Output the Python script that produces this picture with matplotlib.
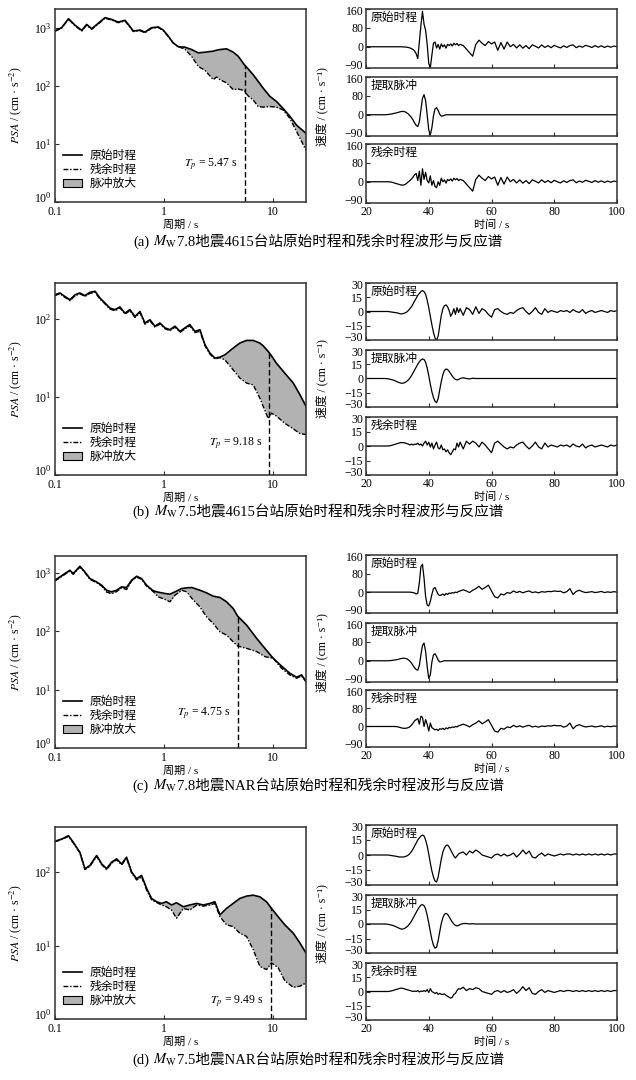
import numpy as np
import matplotlib
matplotlib.use('Agg')
import matplotlib.pyplot as plt
from matplotlib.lines import Line2D
from matplotlib.patches import Patch
from matplotlib.ticker import NullLocator, LogFormatterSciNotation
from matplotlib.transforms import ScaledTranslation

# ---- response spectra (period / s, PSA / cm s^-2) ----
period_a = [0.100, 0.115, 0.133, 0.153, 0.176, 0.195, 0.217, 0.249, 0.287, 0.330, 0.380, 0.438, 0.470, 0.522,
            0.601, 0.667, 0.768, 0.884, 0.983, 1.09, 1.21, 1.35, 1.55, 1.79, 2.06, 2.37, 2.82, 3.03, 3.25, 3.74,
            4.30, 4.78, 5.43, 5.90, 6.56, 7.29, 8.10, 9.32, 10.7, 12.3, 14.2, 16.4, 20.0]
psa_orig_a = [880, 1000, 1430, 1100, 900, 1140, 960, 1190, 1490, 1390, 1250, 1340, 1140, 880,
              910, 840, 1000, 1030, 910, 720, 550, 470, 463, 421, 369, 379, 395, 410, 421, 433,
              380, 323, 232, 195, 155, 119, 91, 66, 54, 41, 30, 21, 15.2]
psa_resid_a = [870, 990, 1400, 1070, 880, 1110, 940, 1160, 1460, 1360, 1220, 1310, 1110, 860,
               890, 820, 980, 1010, 890, 710, 550, 470, 430, 320, 215, 185, 128, 142, 128, 112,
               86, 88, 83, 67, 57, 44, 43, 44, 43, 38.5, 27.7, 16.3, 7.8]

period_b = [0.100, 0.111, 0.123, 0.137, 0.153, 0.169, 0.188, 0.209, 0.233, 0.258, 0.287, 0.319, 0.354, 0.394,
            0.438, 0.486, 0.541, 0.601, 0.667, 0.742, 0.824, 0.916, 1.02, 1.13, 1.26, 1.40, 1.55, 1.72,
            1.92, 2.13, 2.37, 2.63, 2.92, 3.25, 3.61, 4.30, 4.95, 5.70, 6.56, 7.55, 8.10, 9.00, 9.65,
            10.7, 12.8, 15.3, 17.6, 20.0]
psa_orig_b = [205, 216, 195, 177, 205, 216, 200, 220, 227, 186, 161, 138, 132, 143,
              119, 132, 108, 125, 89, 98, 81, 89, 77, 73, 81, 69.5, 77, 85,
              69.5, 73, 46.8, 36.6, 31.6, 32.5, 34.8, 42.4, 49.2, 53.2, 53.2, 49.2, 45.4, 38.5, 33.8,
              27.2, 20.2, 15.1, 10.7, 7.6]
psa_resid_b = [200, 212, 190, 172, 200, 211, 195, 214, 221, 181, 157, 134, 128, 139,
               116, 128, 105, 121, 86, 95, 79, 86, 75, 71, 79, 67.5, 75, 82,
               67, 70, 45.5, 35.6, 30.8, 32.0, 30, 22.3, 17.5, 15.1, 14.3, 9.7, 7.6, 5.3, 6.2,
               5.7, 4.6, 3.9, 3.4, 3.3]

period_c = [0.100, 0.111, 0.123, 0.137, 0.147, 0.169, 0.188, 0.209, 0.241, 0.268, 0.297, 0.330, 0.367, 0.408,
            0.453, 0.504, 0.560, 0.622, 0.691, 0.796, 0.884, 1.02, 1.13, 1.26, 1.45, 1.61, 1.80, 2.13,
            2.45, 2.82, 3.25, 3.74, 4.30, 4.72, 5.70, 7.04, 8.39, 10.0, 11.9, 14.2, 16.4, 18.2, 20.0]
psa_orig_c = [750, 855, 975, 1110, 975, 1300, 1040, 800, 700, 615, 505, 474, 505, 577,
              562, 750, 877, 800, 615, 493, 468, 444, 432, 474, 540, 555, 562, 505,
              456, 400, 380, 320, 246, 182, 128, 76, 51, 34.5, 25.5, 19.1, 16.3, 17.9, 13.8]
psa_resid_c = [730, 830, 945, 1080, 945, 1260, 1010, 775, 680, 595, 470, 440, 480, 555,
               520, 730, 850, 775, 595, 478, 389, 351, 320, 416, 505, 474, 365, 262,
               177, 136, 98, 86, 66, 56, 51, 45, 36.8, 34.5, 23.3, 17.9, 15.7, 17.2, 13.8]

period_d = [0.100, 0.115, 0.133, 0.147, 0.169, 0.188, 0.209, 0.241, 0.268, 0.297, 0.330, 0.367, 0.408, 0.453,
            0.504, 0.560, 0.622, 0.691, 0.768, 0.854, 0.949, 1.05, 1.17, 1.30, 1.50, 1.72, 1.99, 2.29,
            2.63, 2.92, 3.25, 3.74, 4.30, 4.95, 5.70, 6.56, 7.55, 8.69, 9.65, 11.1, 12.8, 15.3, 17.6, 20.0]
psa_orig_d = [262, 281, 312, 254, 186, 111, 123, 168, 129, 111, 136, 151, 129, 159,
              100, 81, 90, 60, 43.7, 39.4, 37.4, 39.4, 35.6, 38.2, 33.7, 35.6, 37.4, 35.6,
              37.4, 39.4, 26.1, 32, 37.4, 43.7, 47, 48.4, 46, 39.4, 32, 24.7, 19.1, 14.7, 10.8, 7.9]
psa_resid_d = [258, 277, 306, 249, 182, 108, 120, 164, 126, 108, 132, 147, 125, 155,
               97, 78, 86, 57, 42, 38.5, 35.6, 33.7, 30.4, 23.5, 32, 30.4, 35.6, 34.4,
               35.6, 37.4, 24.7, 19.1, 18.1, 14.7, 13.3, 8.8, 5.2, 4.7, 5.8, 5.0, 3.3, 2.7, 2.8, 3.1]

pulse_period = [5.47, 9.18, 4.75, 9.49]
magnitude = ['7.8', '7.5', '7.8', '7.5']
station = ['4615', '4615', 'NAR', 'NAR']
panel_tag = ['(a)', '(b)', '(c)', '(d)']

# ---- velocity time histories (cm/s), sampled at t ----
t = np.concatenate([np.arange(20, 30), np.arange(30, 50.5, 0.5), np.arange(51, 101)])

vel_orig_a = ([0, 0, 0, 0, 0, 0, 0, 0, 0, 0] +
              [0, 0, 0, 0, -1, -1, -2, -3, -5, -8, -12, -18, -30, -50, 20, 90, 150, 95, 70, 10,
               -70, -90, -35, 15, 20, -5, 10, -10, 12, 0, 8, -6, 10, 5, 12, 3, 15, 8, 14, 5, 10] +
              [5, -10, -25, -40, 10, 28, 15, 5, 22, 12, 20, -15, 18, -10, 20, 0, 10, -5, 8, -6,
               5, -8, 8, 2, -5, 8, -3, 5, -4, 6, 0, -5, 4, -3, 5, 8, -4, 3, -2, 6,
               2, -3, 5, -2, 4, -3, 3, -2, 3, 0])
vel_pulse_a = ([0, 0, 0, 0, 0, 0, 0, 1, 3, 6] +
               [9, 11, 13, 14, 14, 12, 8, 3, -4, -12, -22, -35, -45, -50, -30, 20, 70, 85, 60, 0,
                -65, -85, -55, -5, 25, 30, 18, 2, -6, -5, -2, 0, 0, 0, 0, 0, 0, 0, 0, 0, 0] +
               [0] * 50)
vel_resid_a = ([0, 0, 0, 0, 0, 0, 0, 0, -1, -5] +
               [-9, -11, -13, -14, -14, -11, -6, 0, 5, 12, 20, 30, 35, 5, 45, -15, 55, 10, 40, 5,
                -5, 25, -15, 5, -20, -25, 0, -15, 15, 0, 8, -6, 10, 5, 12, 3, 15, 8, 14, 5, 10] +
               [5, -10, -25, -40, 10, 28, 15, 5, 22, 12, 20, -15, 18, -10, 20, 0, 10, -5, 8, -6,
                5, -8, 8, 2, -5, 8, -3, 5, -4, 6, 0, -5, 4, -3, 5, 8, -4, 3, -2, 6,
                2, -3, 5, -2, 4, -3, 3, -2, 3, 0])

vel_orig_b = ([0, 0, 0, 0, 0, 0, 0, 0, -0.5, -1] +
              [-1.5, -2, -2.5, -2.5, -2, -1.5, -0.5, 1, 3, 5, 8, 11, 14, 17, 19, 21, 22, 21, 18, 12,
               4, -5, -14, -22, -28, -30, -26, -15, -4, 3, 6, 7, 5, 1, -5, -2, 3, -3, 4, -1, 3] +
              [-4, 4, 2, -3, 5, -2, 3, 1, -3, -6, 2, 3, 0, -2, -3, -1, -2, 1, 3, 4,
               0, -3, 0, 4, -1, -3, 3, -1, 1, 0, -1, 1, 0, 1, -1, 2, 0, -1, 2, -2,
               0, 1, -1, 0, 1, 0, -1, 1, 0, 1])
vel_pulse_b = ([0, 0, 0, 0, 0, 0, 0, -0.3, -1, -2] +
               [-3.5, -4.2, -4.8, -5, -4.8, -4, -3, -1.5, 0.5, 3, 6, 9, 12, 15, 17.5, 19.5, 20.5, 20, 17, 11,
                3, -6, -14, -20, -24, -25.5, -21, -12, -3, 4, 8.5, 10, 9.5, 7.5, 5, 2.5, 0.5, -1, -1.5, -1, 0] +
               [0.8, 0, -0.5, 0.3, 0] + [0] * 45)
vel_resid_b = ([0, 0, 0, 0, 0, 0, 0, 0, 0.5, 1.5] +
               [2.5, 3, 3.5, 3.5, 3.5, 3, 2.5, 2, 1, 2, 1, 2, 1.5, 3, 1, 2, 0, 3, 5, 1,
                4, -1, 3, -3, 1, 4, -2, -3, 1, -4, -3, -6, -4, -7, -9, -6, -3, -4, 3, -1, 4] +
               [-3, 5, 2, 5, 3, -1, 4, 1, -3, -7, 3, 5, 2, -1, -3, -1, -2, 1, 3, 4,
                0, -3, 0, 4, -1, -3, 3, -1, 1, 0, -1, 1, 0, 1, -1, 2, 0, -1, 2, -2,
                0, 1, -1, 0, 1, 0, -1, 1, 0, 1])

vel_orig_c = ([0, 0, 0, 0, 0, 0, 0, 0, 0, 0] +
              [0, 0, 0, 0, 0, 0, 0, 0, 0, -1, -2, -4, -8, -5, 40, 110, 120, 60, -20, -55,
               -60, -40, -10, 15, 20, 5, -10, -15, -12, -8, -14, -6, -10, -4, -6, -2, -4, 0, -2, 3, 5] +
              [10, 5, -2, 8, 15, 25, 12, 20, 30, 5, -20, -25, -8, -12, -2, -5, 5, -2, 3, -3,
               2, 5, -2, 1, -3, 2, 0, 3, 2, 5, 3, 4, -3, 2, 15, -10, 3, 8, 2, -2,
               0, 2, -2, 0, 3, -2, 1, -1, 2, 0])
vel_pulse_c = ([0, 0, 0, 0, 0, 0, 0, 0, 1, 3] +
               [5, 7, 9, 10, 11, 10, 8, 4, -2, -10, -20, -30, -37, -40, -20, 25, 65, 75, 40, -25,
                -75, -60, -5, 25, 30, 18, 3, -5, -4, -2, 0, 0, 0, 0, 0, 0, 0, 0, 0, 0, 0] +
               [0] * 50)
vel_resid_c = ([0, 0, 0, 0, 0, 0, 0, 0, 0, 0] +
               [-1, -3, -5, -7, -8, -8, -7, -5, -1, 6, 15, 25, 30, 35, 10, 45, 40, 0, 30, 10,
                -20, 15, -5, -10, -15, -12, -18, -10, -12, -8, -14, -6, -10, -4, -6, -2, -4, 0, -2, 3, 5] +
               [10, 5, -2, 8, 15, 25, 12, 20, 30, 5, -20, -25, -8, -12, -2, -5, 5, -2, 3, -3,
                2, 5, -2, 1, -3, 2, 0, 3, 2, 5, 3, 4, -3, 2, 15, -10, 3, 8, 2, -2,
                0, 2, -2, 0, 3, -2, 1, -1, 2, 0])

vel_orig_d = ([0, 0, 0, 0, 0, 0, 0, 0, -0.5, -1] +
              [-1.5, -2, -2, -2, -2, -1.5, -1, 0, 1.5, 3.5, 6, 9, 12, 15, 17, 19, 20, 19, 15, 9,
               1, -8, -16, -22, -26, -27, -22, -13, -4, 3, 7, 9.5, 10, 8, 5, 2, -1, -3, -1, 1, 2] +
              [3, 0, 4, 2, 5, 3, 0, -1, -2, -3, 0, 1, -1, 1, -1, 0, 2, -2, 1, 5,
               1, 4, -2, -3, 0, 2, -1, 1, 0, -1, 0, 1, 0, 1, 1, 0, 1, 0, 1, 0,
               1, 0, 1, 0, 1, 0, 1, 0, 1, 1])
vel_pulse_d = ([0, 0, 0, 0, 0, 0, 0, -0.3, -1, -2] +
               [-3.5, -4.3, -5, -5.3, -5, -4.2, -3, -1.5, 0.5, 3, 6, 9, 12, 15, 17.5, 19.5, 20, 19, 15.5, 9,
                1, -8, -16, -22, -25, -24, -17, -8, 0.5, 6.5, 10, 11, 10, 7.5, 4.5, 2, 0, -1.5, -2, -1.5, -0.5] +
               [0.5, 0.5, 0, 0.3, 0] + [0] * 45)
vel_resid_d = ([0, 0, 0, 0, 0, 0, 0, 0, 0.5, 1.5] +
               [2.5, 3, 3.5, 3.5, 3, 2.5, 2, 1.5, 1, 0.5, 0, 0.5, 0, 1, -0.5, 0.5, 0, 1, 0, 2,
                -1, 3, 0, -1, -2, -1, -3, -2, -3, -3, -2.5, -4, -5, -6, -7, -6, -3, -2, 1, 3, 2.5] +
               [4.5, 1, 3, 2, 4, 3, 0, -1, -2, -3, 0, 1, -1, 1, -1, 0, 2, -2, 1, 5,
                1, 4, -2, -3, 0, 2, -1, 1, 0, -1, 0, 1, 0, 1, 1, 0, 1, 0, 1, 0,
                1, 0, 1, 0, 1, 0, 1, 0, 1, 1])

wave_names = ['原始时程', '提取脉冲', '残余时程']

spectra = [(period_a, psa_orig_a, psa_resid_a), (period_b, psa_orig_b, psa_resid_b),
           (period_c, psa_orig_c, psa_resid_c), (period_d, psa_orig_d, psa_resid_d)]
waves = [(vel_orig_a, vel_pulse_a, vel_resid_a), (vel_orig_b, vel_pulse_b, vel_resid_b),
         (vel_orig_c, vel_pulse_c, vel_resid_c), (vel_orig_d, vel_pulse_d, vel_resid_d)]

# ---- layout (figure pixels) ----
W, H = 636, 1080
left_boxes = [(55, 9, 306, 202), (55, 283, 306, 475), (55, 556, 306, 748), (55, 827, 306, 1019)]
right_boxes = [[(366, 9, 617, 68), (366, 77, 617, 136), (366, 144, 617, 203)],
               [(366, 283, 617, 340), (366, 350, 617, 407), (366, 417, 617, 475)],
               [(366, 555, 617, 613), (366, 623, 617, 682), (366, 690, 617, 747)],
               [(366, 825, 617, 885), (366, 895, 617, 953), (366, 963, 617, 1020)]]
psa_top = [2100, 290, 1950, 410]
tp_label_y = [4.3, 2.5, 3.9, 1.68]
vel_lim = [(-90, 160), (-30, 30), (-90, 160), (-30, 30)]
vel_ticks = [[-90, 0, 80, 160], [-30, -15, 0, 15, 30], [-90, 0, 80, 160], [-30, -15, 0, 15, 30]]
caption_y = [246, 516, 790, 1064]

FILL = '#b2b2b2'
EDGE = '#303030'
RESID_LS = (0, (3.5, 1.3, 1, 1.3))

plt.rcParams['font.family'] = ['Liberation Serif', 'Noto Sans CJK SC', 'DejaVu Sans']
plt.rcParams['mathtext.fontset'] = 'stix'
plt.rcParams['axes.linewidth'] = 1.1
plt.rcParams['axes.edgecolor'] = EDGE


def box(x0, y0, x1, y1):
    return [x0 / W, 1 - y1 / H, (x1 - x0) / W, (y1 - y0) / H]


fig = plt.figure(figsize=(W / 100, H / 100), dpi=100)
lift = ScaledTranslation(0, 2.5 / 72, fig.dpi_scale_trans)
corner_lift = ScaledTranslation(0, 4.0 / 72, fig.dpi_scale_trans)
drop = ScaledTranslation(0, -1.0 / 72, fig.dpi_scale_trans)

for i in range(4):
    T, orig, resid = spectra[i]
    Tp = pulse_period[i]

    # -- response spectrum
    ax = fig.add_axes(box(*left_boxes[i]))
    ax.fill_between(T, resid, orig, color=FILL, lw=0)
    ax.plot(T, orig, color='k', lw=1.2)
    ax.plot(T, resid, color='k', lw=1.0, ls=RESID_LS)
    top = 10 ** np.interp(np.log10(Tp), np.log10(T), np.log10(orig))
    ax.plot([Tp, Tp], [1, top], color='k', lw=1.0, ls=(0, (4, 2)))
    ax.text(Tp * 0.86, tp_label_y[i], '$T_p$ = %.2f s' % Tp, ha='right', va='center', fontsize=8.5)
    ax.set_xscale('log')
    ax.set_yscale('log')
    ax.set_xlim(0.1, 20)
    ax.set_ylim(1, psa_top[i])
    ax.set_xticks([0.1, 1, 10], labels=['0.1', '1', '10'])
    ax.xaxis.set_minor_locator(NullLocator())
    ax.set_yticks([10.0 ** k for k in range(4) if 10 ** k <= psa_top[i]])
    ax.yaxis.set_major_formatter(LogFormatterSciNotation())
    ax.yaxis.set_minor_locator(NullLocator())
    ax.tick_params(direction='in', length=3, labelsize=8.5, pad=2.5, color=EDGE)
    ax.tick_params(axis='x', pad=3)
    # 10^0 sits in the corner next to 0.1; raise it a little
    ylabs = ax.get_yticklabels()
    ylabs[0].set_transform(ylabs[0].get_transform() + corner_lift)
    ax.set_xlabel('周期 / s', fontsize=8, labelpad=1)
    handles = [Line2D([], [], color='k', lw=1.2),
               Line2D([], [], color='k', lw=1.0, ls=RESID_LS),
               Patch(facecolor=FILL, edgecolor='k', lw=0.8)]
    ax.legend(handles, ['原始时程', '残余时程', '脉冲放大'], loc='lower left', bbox_to_anchor=(0.0, 0.02),
              frameon=False, fontsize=8.5, handlelength=1.6, handletextpad=0.6, labelspacing=0.15,
              borderaxespad=0.3)
    y0, y1 = left_boxes[i][1], left_boxes[i][3]
    fig.text(16 / W, 1 - (y0 + y1) / 2 / H, '$PSA$ / (cm · s$^{-2}$)', rotation=90,
             ha='center', va='center', fontsize=8.5)

    # -- velocity histories
    for k in range(3):
        axw = fig.add_axes(box(*right_boxes[i][k]))
        axw.plot(t, waves[i][k], color='k', lw=0.9)
        axw.set_xlim(20, 100)
        axw.set_ylim(*vel_lim[i])
        axw.set_yticks(vel_ticks[i])
        axw.set_xticks([20, 40, 60, 80, 100])
        if k < 2:
            axw.set_xticklabels([])
        else:
            axw.set_xlabel('时间 / s', fontsize=8, labelpad=1)
        axw.tick_params(direction='in', length=3, labelsize=8.5, pad=2, color=EDGE)
        # keep the end labels of stacked panels apart
        labels = axw.get_yticklabels()
        labels[0].set_transform(labels[0].get_transform() + lift)
        labels[-1].set_transform(labels[-1].get_transform() + drop)
        axw.text(0.02, 0.95, wave_names[k], transform=axw.transAxes, ha='left', va='top', fontsize=8.5)
    y0, y1 = right_boxes[i][1][1], right_boxes[i][1][3]
    fig.text(322 / W, 1 - (y0 + y1) / 2 / H, '速度 / (cm · s⁻¹)', rotation=90,
             ha='center', va='center', fontsize=8.5)

# ---- sub-figure captions: tag, M_W in math, rest as plain text
renderer = fig.canvas.get_renderer()
for i in range(4):
    rest = magnitude[i] + '地震' + station[i] + '台站原始时程和残余时程波形与反应谱'
    pieces = [fig.text(0, 1 - caption_y[i] / H, s, fontsize=10.5, ha='left', va='baseline')
              for s in (panel_tag[i], r'$M_{\mathrm{W}}$', rest)]
    widths = [p.get_window_extent(renderer).width for p in pieces]
    gap = 4
    x = 318 - (sum(widths) + gap) / 2
    for j, (p, w) in enumerate(zip(pieces, widths)):
        p.set_x(x / W)
        x += w + (gap if j == 0 else 0)

fig.savefig('out.png', dpi=100)
